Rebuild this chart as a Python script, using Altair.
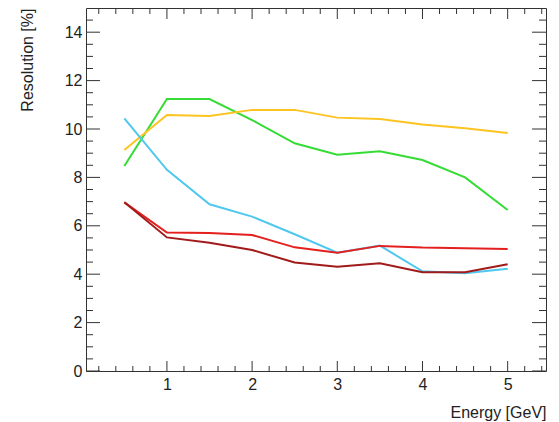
import altair as alt
import pandas as pd

energy = [0.5, 1.0, 1.5, 2.0, 2.5, 3.0, 3.5, 4.0, 4.5, 5.0]
green = [8.47, 11.24, 11.24, 10.37, 9.41, 8.94, 9.08, 8.72, 8.00, 6.65]
yellow = [9.13, 10.58, 10.54, 10.79, 10.79, 10.47, 10.41, 10.19, 10.03, 9.83]
cyan = [10.44, 8.31, 6.89, 6.38, 5.65, 4.89, 5.18, 4.12, 4.04, 4.23]
red = [6.97, 5.72, 5.70, 5.62, 5.11, 4.89, 5.17, 5.10, 5.07, 5.04]
darkred = [6.97, 5.52, 5.30, 5.00, 4.48, 4.31, 4.45, 4.08, 4.08, 4.41]

series_names = ["green", "yellow", "cyan", "red", "darkred"]
series_colors = ["#35dc35", "#fdc421", "#4fc8ef", "#e4201f", "#a21a1a"]
series_values = [green, yellow, cyan, red, darkred]

x_major = [1, 2, 3, 4, 5]
x_minor = [round(0.2 * i, 1) for i in range(1, 28) if i % 5 != 0]
y_major = [0, 2, 4, 6, 8, 10, 12, 14]
y_minor = [0.5 * i for i in range(1, 30) if i % 4 != 0]

W, H = 460, 363
FONT = "Liberation Sans"

rows = []
for name, vals in zip(series_names, series_values):
    for e, v in zip(energy, vals):
        rows.append({"series": name, "energy": e, "res": v})
df = pd.DataFrame(rows)

xscale = alt.Scale(domain=[0.05, 5.45], nice=False, zero=False)
yscale = alt.Scale(domain=[0, 15], nice=False, zero=False)

xaxis = alt.Axis(values=x_major, tickSize=0, domain=False, grid=False,
                 labelFontSize=16, labelFont=FONT, labelColor="#222",
                 labelPadding=5, format="d",
                 title="Energy [GeV]", titleFont=FONT, titleFontSize=16,
                 titleFontWeight="normal", titleColor="#222",
                 titleX=W, titleY=46, titleAlign="right",
                 titleBaseline="alphabetic", titleAnchor="end")
yaxis = alt.Axis(values=y_major, tickSize=0, domain=False, grid=False,
                 labelFontSize=16, labelFont=FONT, labelColor="#222",
                 labelPadding=4, format="d",
                 title="Resolution [%]", titleFont=FONT, titleFontSize=16,
                 titleFontWeight="normal", titleColor="#222",
                 titleAngle=270, titleX=-54, titleY=0,
                 titleAlign="right", titleBaseline="alphabetic",
                 titleAnchor="end")

lines = alt.Chart(df).mark_line(strokeWidth=2).encode(
    x=alt.X("energy:Q", scale=xscale, axis=xaxis),
    y=alt.Y("res:Q", scale=yscale, axis=yaxis),
    color=alt.Color("series:N", scale=alt.Scale(domain=series_names, range=series_colors),
                    legend=None),
    detail="series:N",
)

TC = "#333"


def yticks(vals, length):
    d = pd.DataFrame({"v": vals})
    left = alt.Chart(d).mark_rule(color=TC, strokeWidth=1).encode(
        y=alt.Y("v:Q", scale=yscale, axis=yaxis),
        x=alt.value(0), x2=alt.value(length))
    right = alt.Chart(d).mark_rule(color=TC, strokeWidth=1).encode(
        y=alt.Y("v:Q", scale=yscale, axis=yaxis),
        x=alt.value(W), x2=alt.value(W - length))
    return [left, right]


def xticks(vals, length_bottom, length_top):
    d = pd.DataFrame({"v": vals})
    bottom = alt.Chart(d).mark_rule(color=TC, strokeWidth=1).encode(
        x=alt.X("v:Q", scale=xscale, axis=xaxis),
        y=alt.value(H), y2=alt.value(H - length_bottom))
    top = alt.Chart(d).mark_rule(color=TC, strokeWidth=1).encode(
        x=alt.X("v:Q", scale=xscale, axis=xaxis),
        y=alt.value(0), y2=alt.value(length_top))
    return [bottom, top]


layers = ([lines] + yticks(y_major, 14) + yticks(y_minor, 7)
          + xticks(x_major, 10, 11) + xticks(x_minor, 5, 6))

chart = alt.layer(*layers).properties(
    width=W, height=H,
    autosize=alt.AutoSizeParams(type="none"),
    padding={"left": 86, "top": 8, "right": 13, "bottom": 51},
    background="white",
).configure_view(stroke="#333", strokeWidth=1)

chart.save("out.html", embed_options={"renderer": "svg", "actions": False})
